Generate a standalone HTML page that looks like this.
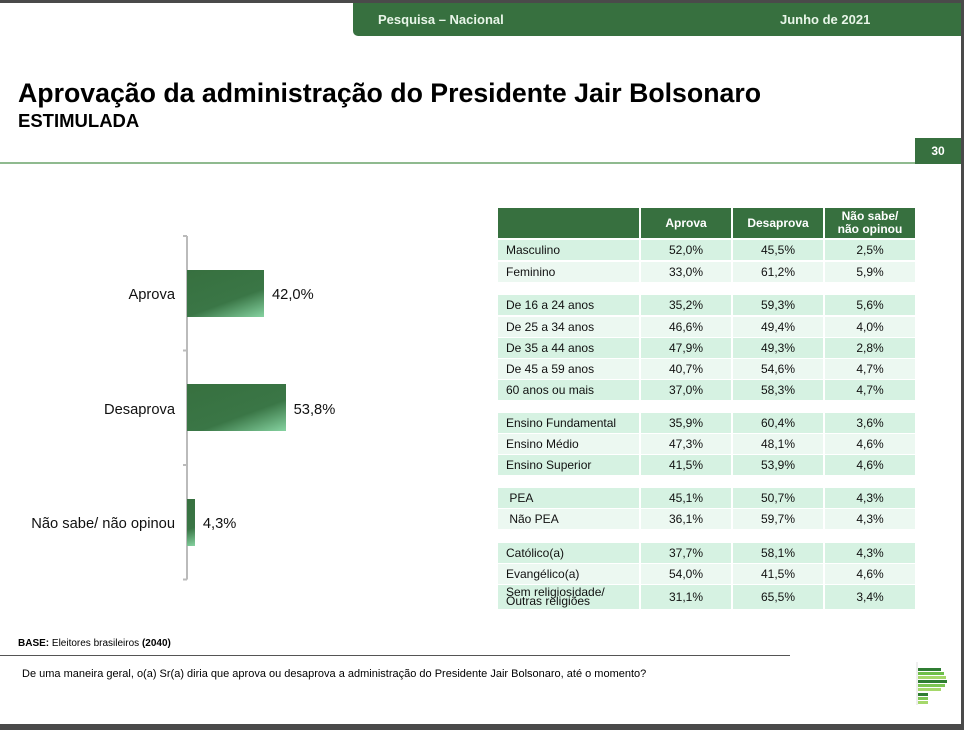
<!DOCTYPE html>
<html><head><meta charset="utf-8"><style>
body{margin:0;width:964px;height:730px;position:relative;overflow:hidden;background:#fff;font-family:"Liberation Sans",sans-serif;}
.a{position:absolute;}
.cell{position:absolute;font-size:12px;color:#111;display:flex;align-items:center;}
.num{justify-content:center;}
.hd{position:absolute;background:#37703f;color:#fff;font-weight:bold;font-size:12px;display:flex;align-items:center;justify-content:center;text-align:center;line-height:13px;}
.bar{position:absolute;background:linear-gradient(160deg,#37703f 0%,#3a7646 62%,#86d3a1 100%);}
.lbl{position:absolute;font-size:14.7px;color:#111;}
</style></head><body>
<div class="a" style="left:0;top:0;width:964px;height:3px;background:#4a4a4a"></div>
<div class="a" style="left:961px;top:0;width:3px;height:730px;background:#4a4a4a"></div>
<div class="a" style="left:0;top:724px;width:964px;height:6px;background:#4a4a4a"></div>
<div class="a" style="left:353px;top:3px;width:608px;height:33px;background:#37703f;border-bottom-left-radius:5px"></div>
<div class="a" style="left:378px;top:12px;color:#e8f5e8;font-weight:bold;font-size:13px">Pesquisa – Nacional</div>
<div class="a" style="left:780px;top:12px;color:#e8f5e8;font-weight:bold;font-size:13px">Junho de 2021</div>
<div class="a" style="left:18px;top:78px;font-size:26.7px;font-weight:bold;color:#000">Aprovação da administração do Presidente Jair Bolsonaro</div>
<div class="a" style="left:18px;top:110px;font-size:18.5px;font-weight:bold;color:#000">ESTIMULADA</div>
<div class="a" style="left:0;top:162px;width:915px;height:2px;background:#8fba8f"></div>
<div class="a" style="left:915px;top:138px;width:46px;height:26px;background:#37703f;color:#fff;font-weight:bold;font-size:12px;display:flex;align-items:center;justify-content:center">30</div>
<svg class="a" style="left:0;top:0" width="964" height="730"><g id="axis" stroke="#bbb" stroke-width="2" fill="none"></g></svg>
<div id="chart"></div>
<div id="table"></div>
<div class="a" style="left:18px;top:638px;font-size:10px;color:#000"><b>BASE:</b> Eleitores brasileiros <b>(2040)</b></div>
<div class="a" style="left:0;top:655px;width:790px;height:1px;background:#555"></div>
<div class="a" style="left:22px;top:668px;font-size:11px;color:#000">De uma maneira geral, o(a) Sr(a) diria que aprova ou desaprova a administração do Presidente Jair Bolsonaro, até o momento?</div>
<svg class="a" style="left:915px;top:662px" width="40" height="45">
<line x1="2" y1="0" x2="2" y2="43" stroke="#ddd"/>
<rect x="3" y="6" width="23" height="3" fill="#2f7d32"/><rect x="3" y="10" width="26" height="3" fill="#6fbf4a"/><rect x="3" y="14" width="28" height="3" fill="#a5d86a"/><rect x="3" y="18" width="29" height="3" fill="#2f7d32"/><rect x="3" y="22" width="27" height="3" fill="#7cc652"/><rect x="3" y="26" width="23" height="3" fill="#a5d86a"/><rect x="3" y="31" width="10" height="3" fill="#2f7d32"/><rect x="3" y="35" width="10" height="3" fill="#7cc652"/><rect x="3" y="39" width="10" height="3" fill="#a5d86a"/>
</svg>
<script>
const categories=["Aprova","Desaprova","Não sabe/ não opinou"];
const values=[42.0,53.8,4.3];
const valueLabels=["42,0%","53,8%","4,3%"];
const x0=187, pxPer=1.833, top0=236, band=114.5, barH=47;
const xs=v=>x0+v*pxPer;
const yc=i=>top0+band*i+band/2;
const ax=document.getElementById('axis');
let d=`M${x0} ${top0}V${top0+band*3}`;
for(let i=0;i<=3;i++) d+=`M${x0-4} ${top0+band*i}H${x0}`;
const p=document.createElementNS('http://www.w3.org/2000/svg','path');p.setAttribute('d',d);ax.appendChild(p);
const ch=document.getElementById('chart');
categories.forEach((c,i)=>{
 const b=document.createElement('div');b.className='bar';
 
 
 b.style.left=x0+'px';b.style.top=(yc(i)-barH/2)+'px';b.style.width=(xs(values[i])-x0)+'px';b.style.height=barH+'px';ch.appendChild(b);
 const l=document.createElement('div');l.className='lbl';
 
 
 l.textContent=c;l.style.right=(964-175)+'px';l.style.top=(yc(i)-6)+'px';ch.appendChild(l);
 const v=document.createElement('div');v.className='lbl';
 
 
 v.textContent=valueLabels[i];v.style.left=(xs(values[i])+8)+'px';v.style.top=(yc(i)-6)+'px';ch.appendChild(v);
});
const rowNames=["Masculino","Feminino","De 16 a 24 anos","De 25 a 34 anos","De 35 a 44 anos","De 45 a 59 anos","60 anos ou mais","Ensino Fundamental","Ensino Médio","Ensino Superior","&nbsp;PEA","&nbsp;Não PEA","Católico(a)","Evangélico(a)","Sem religiosidade/<br>Outras religiões"];
const aprova=["52,0%","33,0%","35,2%","46,6%","47,9%","40,7%","37,0%","35,9%","47,3%","41,5%","45,1%","36,1%","37,7%","54,0%","31,1%"];
const desaprova=["45,5%","61,2%","59,3%","49,4%","49,3%","54,6%","58,3%","60,4%","48,1%","53,9%","50,7%","59,7%","58,1%","41,5%","65,5%"];
const naoSabe=["2,5%","5,9%","5,6%","4,0%","2,8%","4,7%","4,7%","3,6%","4,6%","4,6%","4,3%","4,3%","4,3%","4,6%","3,4%"];
const rowTops=[240,262,295,317,338,359,380,413,434,455,488,509,543,564,585];
const rowHs=[20,20,20,20,20,20,20,20,20,20,20,20,20,20,24];
const cols=[[498,141],[641,90],[733,90],[825,90]];
const tb=document.getElementById('table');
const heads=["","Aprova","Desaprova","Não sabe/<br>não opinou"];
heads.forEach((h,j)=>{const e=document.createElement('div');e.className='hd';
 
 
 e.style.left=cols[j][0]+'px';e.style.width=cols[j][1]+'px';e.style.top='208px';e.style.height='30px';e.innerHTML=h;tb.appendChild(e);});
const firstInGroup=[0,2,7,10,12];
let alt=0;
rowNames.forEach((n,i)=>{
 if(firstInGroup.includes(i)) alt=0;
 const bg=alt%2===0?'#d6f2e2':'#ecf8f1';alt++;
 const vals=[n,aprova[i],desaprova[i],naoSabe[i]];
 vals.forEach((v,j)=>{const e=document.createElement('div');e.className='cell'+(j?' num':'');
  
  
  e.style.left=cols[j][0]+'px';e.style.width=(cols[j][1]-(j?0:8))+'px';e.style.paddingLeft=j?'0':'8px';
  e.style.top=rowTops[i]+'px';e.style.height=rowHs[i]+'px';e.style.background=bg;
  if(i===14&&j===0){e.style.lineHeight='9px';}
  e.innerHTML=v;tb.appendChild(e);});
});
</script>
</body></html>
